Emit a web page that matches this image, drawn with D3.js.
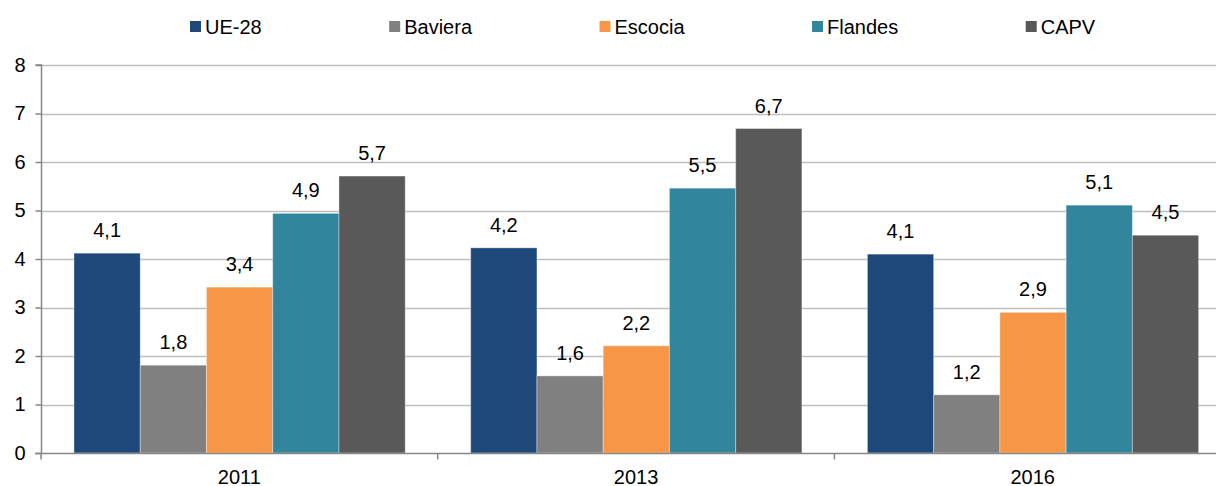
<!DOCTYPE html>
<html><head><meta charset="utf-8">
<script src="https://cdn.jsdelivr.net/npm/d3@7"></script>
<style>
html,body{margin:0;padding:0;background:#fff;}
svg text{font-family:"Liberation Sans",Arial,sans-serif;fill:#000;}
</style></head>
<body>
<svg id="chart" width="1216" height="486"></svg>
<script>
const years = ["2011", "2013", "2016"];
const seriesNames = ["UE-28", "Baviera", "Escocia", "Flandes", "CAPV"];
const ue28    = [4.12, 4.23, 4.10];
const baviera = [1.81, 1.59, 1.20];
const escocia = [3.42, 2.21, 2.90];
const flandes = [4.94, 5.46, 5.11];
const capv    = [5.71, 6.69, 4.49];
const yTicks  = [0, 1, 2, 3, 4, 5, 6, 7, 8];
const colors  = ["#1F487A", "#808080", "#F79646", "#31859C", "#595959"];

(function(){
const seriesValues = [ue28, baviera, escocia, flandes, capv];
const rows = years.map((yr, i) => ({year: yr, vals: seriesNames.map((s, j) => ({name: s, v: seriesValues[j][i], c: colors[j]}))}));

const svg = d3.select("#chart");
const fs = 20;
const mLeft = 41, bandW = 396.7, mTop = 65, mBottom = 453;

const x0 = d3.scaleBand().domain(years).range([mLeft, mLeft + bandW * years.length]).padding(0);
const x1 = d3.scaleBand().domain(seriesNames).range([33, bandW - 32.5]).padding(0);
const y = d3.scaleLinear().domain([0, 8]).range([mBottom, mTop]);

// gridlines
svg.append("g").selectAll("line").data(yTicks.filter(d => d > 0)).join("line")
  .attr("x1", mLeft).attr("x2", 1216)
  .attr("y1", d => Math.round(y(d)) + 0.5).attr("y2", d => Math.round(y(d)) + 0.5)
  .attr("stroke", "#BFBFBF").attr("stroke-width", 1.5);

// bars
const g = svg.append("g");
g.selectAll("g").data(rows).join("g")
  .attr("transform", d => `translate(${x0(d.year)},0)`)
  .each(function(r) {
    const gg = d3.select(this);
    gg.selectAll("rect").data(r.vals).join("rect")
      .attr("x", d => x1(d.name)).attr("width", x1.bandwidth())
      .attr("y", d => y(d.v)).attr("height", d => y(0) - y(d.v))
      .attr("fill", d => d.c).attr("stroke", "rgba(255,255,255,0.35)").attr("stroke-width", 1);
    gg.selectAll("text").data(r.vals).join("text")
      .attr("x", d => x1(d.name) + x1.bandwidth() / 2)
      .attr("y", d => y(d.v) - 16)
      .attr("text-anchor", "middle").attr("font-size", fs)
      .text(d => d3.format(".1f")(d.v).replace(".", ","));
  });

// y axis
const yAxis = d3.axisLeft(y).tickValues(yTicks).tickSize(6).tickPadding(10).tickFormat(d3.format("d"));
const ya = svg.append("g").attr("transform", `translate(${mLeft + 0.5},0)`).call(yAxis);
ya.select(".domain").attr("stroke", "#868686").attr("stroke-width", 1.5).attr("d", `M-6,${y(8)}H0V${y(0)}`);
ya.selectAll(".tick line").attr("stroke", "#868686").attr("stroke-width", 1.5);
ya.selectAll(".tick text").attr("font-size", fs).attr("font-family", "Liberation Sans, Arial, sans-serif").attr("fill", "#000");

// x axis
const xa = svg.append("g").attr("transform", `translate(0,${mBottom + 0.5})`);
xa.append("line").attr("x1", mLeft - 6).attr("x2", 1216).attr("y1", 0).attr("y2", 0)
  .attr("stroke", "#868686").attr("stroke-width", 1.5);
xa.selectAll("line.tk").data(years).join("line").attr("class", "tk")
  .attr("x1", d => x0(d)).attr("x2", d => x0(d)).attr("y1", 0).attr("y2", 6)
  .attr("stroke", "#868686").attr("stroke-width", 1.5);
xa.selectAll("text").data(years).join("text")
  .attr("x", d => x0(d) + x0.bandwidth() / 2).attr("y", 30)
  .attr("text-anchor", "middle").attr("font-size", fs).text(d => d);

// legend
const lg = svg.append("g");
let lx = 190;
seriesNames.forEach((s, i) => {
  lg.append("rect").attr("x", lx).attr("y", 21).attr("width", 11).attr("height", 11).attr("fill", colors[i]);
  const t = lg.append("text").attr("x", lx + 15).attr("y", 34).attr("font-size", fs).text(s);
  lx += 15 + t.node().getComputedTextLength() + 127.5;
});
})();
</script>
</body></html>
